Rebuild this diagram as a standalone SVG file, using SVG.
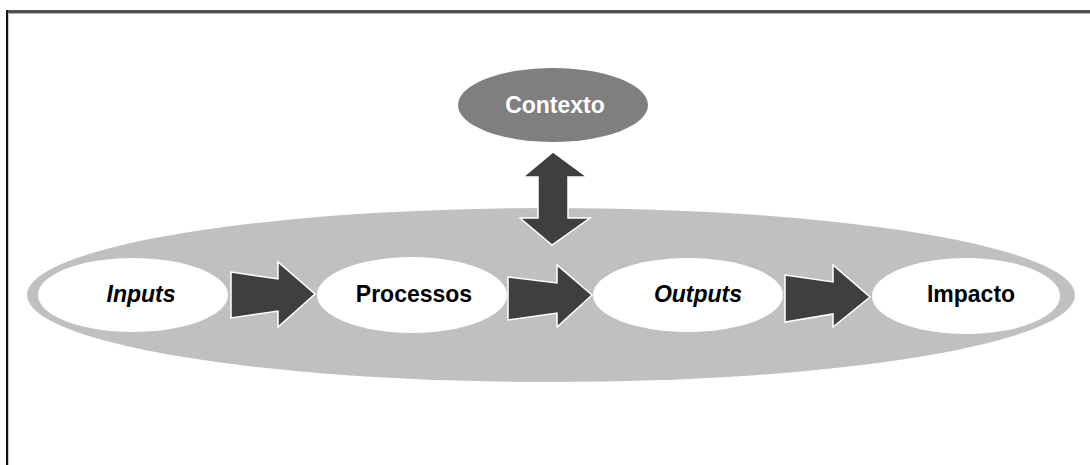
<svg xmlns="http://www.w3.org/2000/svg" width="1090" height="465" viewBox="0 0 1090 465">
<style>
.lbl{font-family:"Liberation Sans",Arial,sans-serif;font-weight:bold;font-size:23px;text-anchor:middle;fill:#000}
.it{font-style:italic}
.node{fill:#fff}
.arr{fill:#3f3f3f;stroke:#fff;stroke-width:1.5;stroke-linejoin:miter}
</style>
<rect width="1090" height="465" fill="#fff"/>
<g id="frame">
<rect x="6" y="10" width="1084" height="3" fill="#505050"/>
<rect x="6" y="13" width="1084" height="1" fill="#b0b0b0"/>
<rect x="6" y="10" width="2" height="455" fill="#111"/>
<rect x="8" y="13" width="1" height="452" fill="#c8c8c8"/>
</g>
<g id="system">
<ellipse cx="551" cy="295" rx="524" ry="87" fill="#c0c0c0"/>
</g>
<g id="contexto">
<ellipse cx="553" cy="105" rx="95" ry="37" fill="#7f7f7f"/>
<text class="lbl" x="555" y="113" fill="#fff" style="fill:#fff">Contexto</text>
</g>
<g id="inputs">
<ellipse class="node" cx="133" cy="295" rx="95" ry="37"/>
<text class="lbl it" x="141" y="302">Inputs</text>
</g>
<g id="processos">
<ellipse class="node" cx="412" cy="295" rx="95" ry="38"/>
<text class="lbl" x="414" y="302">Processos</text>
</g>
<g id="outputs">
<ellipse class="node" cx="688" cy="295" rx="95" ry="37"/>
<text class="lbl it" x="698" y="302">Outputs</text>
</g>
<g id="impacto">
<ellipse class="node" cx="966" cy="296" rx="94" ry="38"/>
<text class="lbl" x="971" y="302">Impacto</text>
</g>
<g id="connectors">
<polygon class="arr" points="231,272 278,279 278,262 315,294 278,327 278,311 231,318"/>
<polygon class="arr" points="508,277 557,283 557,265 592,295 557,327 557,313 508,320"/>
<polygon class="arr" points="785,275 833,282 833,265 870,297 833,327 833,314 785,322"/>
<polygon class="arr" points="553,152 587,177 568,177 568,218 590,218 552,245 520,218 538,218 538,177 523,177"/>
</g>
</svg>
